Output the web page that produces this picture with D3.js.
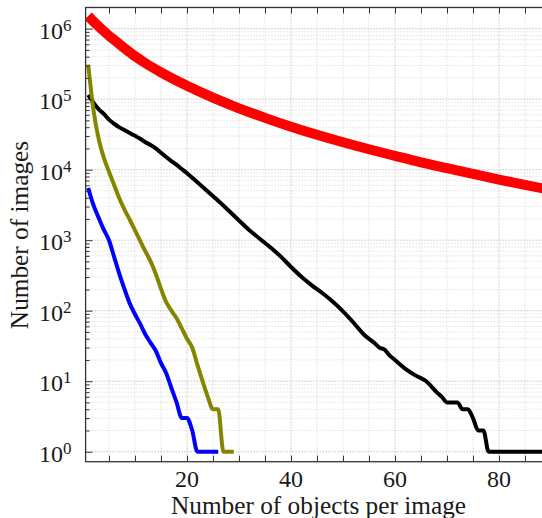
<!DOCTYPE html>
<html>
<head>
<meta charset="utf-8">
<script src="https://cdn.jsdelivr.net/npm/d3@7"></script>
<style>
  html, body { margin: 0; padding: 0; background: #fff; overflow: hidden; }
  text { font-family: "Liberation Serif", "DejaVu Serif", serif; fill: #1a1a1a; }
</style>
</head>
<body>
<svg id="chart" width="542" height="518"></svg>
<script>
// ---- data ----
const redX = [1,2,3,4,5,6,7,8,9,10,12,15,20,25,30,35,40,45,50,55,60,65,70,75,80,85,90];
const redY = [1510000,1270000,1080000,923000,794000,692000,603000,525000,462000,407000,324000,240000,155000,105000,74100,54300,40700,31300,24500,19500,15700,12700,10500,8710,7240,6100,5130];

const blackX = [1,2,3,4,5,6,7,8,9,10,11,12,13,14,15,16,17,18,19,20,22,24,26,28,30,32,34,36,38,40,42,44,46,48,50,52,54,56,57,58,59,60,62,64,66,68,69,70,71,72,73,74,75,76,77,78,79,80,81,82,83,84,85,86,87,88,89,90];
const blackY = [115000,89100,72400,61700,51300,44700,39800,36300,33100,30200,27500,24500,22400,20000,17400,15100,13200,11700,10200,8910,6610,4900,3630,2630,1905,1380,1047,794,589,417,302,229,178,135,98,68,46,35,30,28,23,20,15,12,10,7,6,5,5,5,4,4,3,2,2,1,1,1,1,1,1,1,1,1,1,1,1,1];

const oliveX = [1,2,3,4,5,6,7,8,9,10,11,12,13,14,15,16,17,18,19,20,21,22,23,24,25,26,27,28,29];
const oliveY = [309000,70800,27500,14800,9330,6030,3890,2690,1950,1380,977,692,501,331,204,132,100,78,56,40,30,17,10,6,4,4,1,1,1];

const blueX = [1,2,3,4,5,6,7,8,9,10,11,12,13,14,15,16,17,18,19,20,21,22,23,24,25,26];
const blueY = [5500,3160,2090,1410,1000,575,331,200,126,89,65,46,35,27,18,13,8,5,3,3,2,1,1,1,1,1];

const xTickLabels = [20, 40, 60, 80];
const xMinorTicks = d3.range(5, 91, 5);
const yDecades = [0, 1, 2, 3, 4, 5, 6];
const xTitle = "Number of objects per image";
const yTitle = "Number of images";

// ---- layout ----
const svg = d3.select("#chart");
const plotL = 85.6, plotR = 551, plotT = 7.5, plotB = 461.7;

const x = d3.scaleLinear().domain([0.5, 90]).range([plotL, plotR]);
const y = d3.scaleLog().domain([0.7215, 1.995e6]).range([plotB, plotT]);

svg.append("defs").append("clipPath").attr("id", "clip")
  .append("rect").attr("x", plotL).attr("y", plotT)
  .attr("width", plotR - plotL).attr("height", plotB - plotT);

// ---- grid ----
const grid = svg.append("g");
xMinorTicks.forEach(v => {
  const major = xTickLabels.includes(v);
  grid.append("line")
    .attr("x1", x(v)).attr("x2", x(v))
    .attr("y1", plotT).attr("y2", plotB)
    .attr("stroke", major ? "#a8a8a8" : "#cfcfcf")
    .attr("stroke-width", 1)
    .attr("stroke-dasharray", "1 2");
});
const yMinor = [];
yDecades.forEach(d => {
  for (let m = 2; m <= 9; m++) {
    const v = m * Math.pow(10, d);
    if (v < y.domain()[1]) yMinor.push(v);
  }
});
yMinor.forEach(v => {
  grid.append("line")
    .attr("x1", plotL).attr("x2", plotR)
    .attr("y1", y(v)).attr("y2", y(v))
    .attr("stroke", "#d4d4d4").attr("stroke-width", 1)
    .attr("stroke-dasharray", "1 2");
});
yDecades.forEach(d => {
  const v = Math.pow(10, d);
  grid.append("line")
    .attr("x1", plotL).attr("x2", plotR)
    .attr("y1", y(v)).attr("y2", y(v))
    .attr("stroke", "#a8a8a8").attr("stroke-width", 1)
    .attr("stroke-dasharray", "1 2");
});

// ---- lines ----
const lineGen = d3.line().x(d => x(d[0])).y(d => y(d[1])).curve(d3.curveMonotoneX);
const lines = svg.append("g").attr("clip-path", "url(#clip)");
const series = [
  { xs: redX, ys: redY, color: "#ff0000", w: 10 },
  { xs: blackX, ys: blackY, color: "#000000", w: 4 },
  { xs: oliveX, ys: oliveY, color: "#858500", w: 4 },
  { xs: blueX, ys: blueY, color: "#0000ff", w: 4 }
];
series.forEach(s => {
  lines.append("path")
    .datum(s.xs.map((v, i) => [v, s.ys[i]]))
    .attr("d", lineGen)
    .attr("fill", "none")
    .attr("stroke", s.color)
    .attr("stroke-width", s.w)
    .attr("stroke-linejoin", "round")
    .attr("stroke-linecap", "butt");
});

// ---- axes ----
const axisColor = "#333";
const xAxisB = d3.axisBottom(x).tickValues(xMinorTicks).tickSize(-6).tickFormat("");
const gxb = svg.append("g").attr("transform", `translate(0,${plotB})`).call(xAxisB);
const xAxisT = d3.axisTop(x).tickValues(xMinorTicks).tickSize(-6).tickFormat("");
const gxt = svg.append("g").attr("transform", `translate(0,${plotT})`).call(xAxisT);
const yAxisL = d3.axisLeft(y).tickValues(yDecades.map(d => Math.pow(10, d))).tickSize(-7).tickFormat("");
const gyl = svg.append("g").attr("transform", `translate(${plotL},0)`).call(yAxisL);
const yAxisLm = d3.axisLeft(y).tickValues(yMinor).tickSize(-4).tickFormat("");
const gylm = svg.append("g").attr("transform", `translate(${plotL},0)`).call(yAxisLm);
[gxb, gxt, gyl, gylm].forEach(g => {
  g.select(".domain").remove();
  g.selectAll(".tick line").attr("stroke", axisColor).attr("stroke-width", 1);
});

svg.append("rect")
  .attr("x", plotL).attr("y", plotT)
  .attr("width", plotR - plotL).attr("height", plotB - plotT)
  .attr("fill", "none").attr("stroke", axisColor).attr("stroke-width", 1.3);

// x tick labels
svg.append("g").selectAll("text").data(xTickLabels).join("text")
  .attr("x", d => x(d)).attr("y", plotB + 25)
  .attr("text-anchor", "middle")
  .attr("font-size", 24)
  .text(d => d);

// y tick labels 10^n
const yl = svg.append("g").selectAll("text").data(yDecades).join("text")
  .attr("x", plotL - 14).attr("y", d => y(Math.pow(10, d)) + 10)
  .attr("text-anchor", "end")
  .attr("font-size", 24);
yl.append("tspan").text("10");
yl.append("tspan").attr("dy", -8).attr("font-size", 17).text(d => d);

// axis titles
svg.append("text")
  .attr("x", 318.5).attr("y", 514)
  .attr("text-anchor", "middle")
  .attr("font-size", 25.3)
  .text(xTitle);

svg.append("text")
  .attr("transform", `translate(28,235) rotate(-90)`)
  .attr("text-anchor", "middle")
  .attr("font-size", 25.3)
  .text(yTitle);
</script>
</body>
</html>
